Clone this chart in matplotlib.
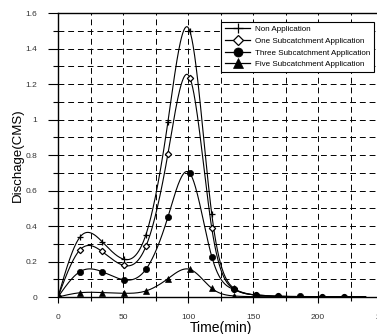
import numpy as np
import matplotlib
matplotlib.use("Agg")
import matplotlib.pyplot as plt
from matplotlib.ticker import MultipleLocator, FixedLocator
from matplotlib.lines import Line2D

plt.rcParams['font.family'] = ['Liberation Sans', 'DejaVu Sans']

# ---- data ----
time_min = [0, 16.9, 33.8, 50.7, 67.6, 84.5, 101.4, 118.3, 135.2, 152.1, 169.0, 185.9, 202.8, 219.7, 236.6]
non_app = [0, 0.338, 0.313, 0.213, 0.351, 0.985, 1.500, 0.466, 0.050, 0.012, 0.004, 0.002, 0.001, 0.001, 0.001]
one_app = [0, 0.266, 0.257, 0.178, 0.285, 0.805, 1.237, 0.387, 0.045, 0.012, 0.004, 0.002, 0.001, 0.001, 0.001]
three_app = [0, 0.143, 0.143, 0.097, 0.156, 0.450, 0.698, 0.227, 0.043, 0.010, 0.005, 0.003, 0.002, 0.001, 0.001]
five_app = [0, 0.024, 0.025, 0.021, 0.034, 0.103, 0.156, 0.049, 0.006, 0.002, 0.001, 0.001, 0.001, 0.001, 0.001]
labels = ["Non Application", "One Subcatchment Application",
          "Three Subcatchment Application", "Five Subcatchment Application"]
x_ticks = [0, 50, 100, 150, 200, 250]
y_ticks = [0, 0.2, 0.4, 0.6, 0.8, 1.0, 1.2, 1.4, 1.6]
y_ticklabels = ["0", "0.2", "0.4", "0.6", "0.8", "1", "1.2", "1.4", "1.6"]


def natural_spline(x, y, xs):
    x = np.asarray(x, float)
    y = np.asarray(y, float)
    n = len(x)
    h = np.diff(x)
    A = np.zeros((n, n))
    b = np.zeros(n)
    A[0, 0] = 1
    A[-1, -1] = 1
    for i in range(1, n - 1):
        A[i, i - 1] = h[i - 1]
        A[i, i] = 2 * (h[i - 1] + h[i])
        A[i, i + 1] = h[i]
        b[i] = 3 * ((y[i + 1] - y[i]) / h[i] - (y[i] - y[i - 1]) / h[i - 1])
    c = np.linalg.solve(A, b)
    bb = np.zeros(n - 1)
    d = np.zeros(n - 1)
    for i in range(n - 1):
        bb[i] = (y[i + 1] - y[i]) / h[i] - h[i] * (2 * c[i] + c[i + 1]) / 3
        d[i] = (c[i + 1] - c[i]) / (3 * h[i])
    idx = np.clip(np.searchsorted(x, xs) - 1, 0, n - 2)
    dx = xs - x[idx]
    return y[idx] + bb[idx] * dx + c[idx] * dx ** 2 + d[idx] * dx ** 3


W, H = 377, 334
fig = plt.figure(figsize=(W / 100, H / 100), dpi=100)
ax = fig.add_axes([58 / W, 37 / H, 325 / W, 283.7 / H])

series = [non_app, one_app, three_app, five_app]
markers = [dict(marker='+', ms=5, mew=0.9, mfc='black'),
           dict(marker='D', ms=3.2, mew=0.9, mfc='white'),
           dict(marker='o', ms=4.5, mew=0.5, mfc='black'),
           dict(marker='^', ms=4, mew=0.5, mfc='black')]
leg_ms = [7, 5, 6.5, 6.5]
xs = np.linspace(time_min[0], time_min[-1], 800)
n_mark = len(time_min) - 1
handles = []
for vals, mk, lab, lms in zip(series, markers, labels, leg_ms):
    ys = natural_spline(time_min, vals, xs)
    ax.plot(xs, ys, color='black', lw=0.8, zorder=3)
    ax.plot(time_min[:n_mark], vals[:n_mark],
            ls='none', color='black', mec='black', zorder=4, **mk)
    hk = dict(mk)
    hk['ms'] = lms
    handles.append(Line2D([], [], color='black', lw=0.9, label=lab, **hk))

ax.set_xlim(0, 250)
ax.set_ylim(0, 1.6)
ax.xaxis.set_major_locator(FixedLocator(x_ticks))
ax.xaxis.set_minor_locator(MultipleLocator(25))
ax.yaxis.set_major_locator(FixedLocator(y_ticks))
ax.set_yticklabels(y_ticklabels)
ax.yaxis.set_minor_locator(MultipleLocator(0.1))
ax.grid(True, which='both', color='black', ls=(0, (6, 4)), lw=0.7)
ax.tick_params(axis='y', which='major', direction='out', length=7, width=0.8,
               labelsize=6, labelcolor='#333333', pad=8)
ax.tick_params(axis='y', which='minor', direction='out', length=3.5, width=0.8)
ax.tick_params(axis='x', which='major', direction='inout', length=8, width=0.8,
               labelsize=6, labelcolor='#333333', pad=8)
ax.tick_params(axis='x', which='minor', direction='inout', length=6, width=0.8)
for s in ax.spines.values():
    s.set_linewidth(1.0)

ax.set_xlabel("Time(min)", fontsize=10, labelpad=0)
ax.set_ylabel("Dischage(CMS)", fontsize=9.5, labelpad=1)

leg = ax.legend(handles=handles, loc='upper left',
                bbox_to_anchor=(221 / W, 1 - 22 / H),
                bbox_transform=fig.transFigure, borderaxespad=0, fontsize=5.8,
                frameon=True, fancybox=False, edgecolor='black', framealpha=1,
                handlelength=3.2, handletextpad=0.6, labelspacing=0.5,
                borderpad=0.45)
leg.get_frame().set_linewidth(0.8)

fig.savefig("out.png", dpi=100)
